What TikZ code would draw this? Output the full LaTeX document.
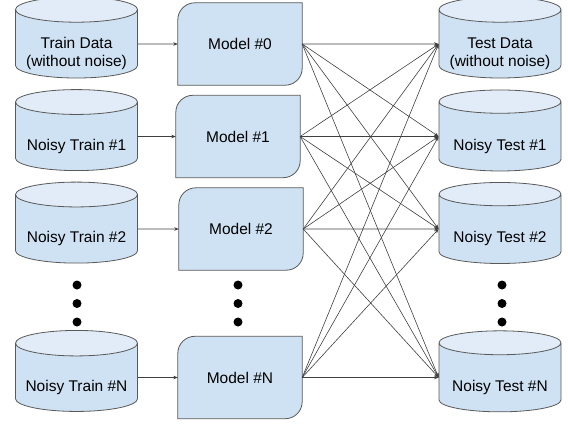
\documentclass[tikz,border=0pt]{standalone}
\usepackage{fontspec}
\setmainfont{Liberation Sans}
\usetikzlibrary{shapes.geometric,arrows.meta,backgrounds}
\definecolor{storefill}{HTML}{CFE2F3}
\definecolor{capfill}{HTML}{E1ECF8}
\definecolor{edgegray}{HTML}{595959}
\definecolor{wiregray}{HTML}{404040}
% Store labels sit in the body of the cylinder, below the top cap.
\newcommand{\storelabel}[1]{\raisebox{-10pt}[\height][\depth]{\begin{tabular}{@{}c@{}}#1\end{tabular}}}

\begin{document}
\begin{tikzpicture}[
  x=1pt,
  y=-1pt,
  line join=round,
  datastore/.style={cylinder,shape border rotate=90,aspect=0.25,draw=edgegray,line width=0.8pt,
    cylinder uses custom fill,cylinder body fill=storefill,cylinder end fill=capfill,
    minimum width=122pt,minimum height=81pt,inner sep=0pt,
    font=\fontsize{15.5}{18}\selectfont},
  model/.style={rectangle,minimum width=124pt,minimum height=82pt,inner sep=0pt,
    font=\fontsize{15.5}{18}\selectfont},
  modeledge/.style={draw=edgegray,fill=storefill,line width=0.8pt},
  link/.style={draw=wiregray,line width=0.6pt,-{Stealth[length=4.5pt,width=3.5pt]}},
  ellipsisdot/.style={circle,fill=black,inner sep=0pt,minimum size=9pt}
]
  \useasboundingbox (0,0) rectangle (568,424);

  % Training sets on the left.
  \node[datastore] (train0) at (76.5,44) {\storelabel{Train Data\\(without noise)}};
  \node[datastore] (train1) at (76.5,136.5) {\storelabel{Noisy Train \#1}};
  \node[datastore] (train2) at (76.5,229) {\storelabel{Noisy Train \#2}};
  \node[datastore] (trainN) at (76.5,377.5) {\storelabel{Noisy Train \#N}};

  % One model per training set.
  \node[model] (model0) at (240,44) {Model \#0};
  \node[model] (model1) at (238,136.5) {Model \#1};
  \node[model] (model2) at (241,229) {Model \#2};
  \node[model] (modelN) at (240,377.5) {Model \#N};

  % Test sets on the right.
  \node[datastore] (test0) at (500,44) {\storelabel{Test Data\\(without noise)}};
  \node[datastore] (test1) at (500,136.5) {\storelabel{Noisy Test \#1}};
  \node[datastore] (test2) at (500,229) {\storelabel{Noisy Test \#2}};
  \node[datastore] (testN) at (500,377.5) {\storelabel{Noisy Test \#N}};

  % Model boxes: only top-left and bottom-right corners are rounded.
  \begin{pgfonlayer}{background}
    \foreach \m in {model0,model1,model2,modelN} {
      \path[modeledge] (\m.south west) -- ([yshift=-17pt]\m.north west)
        arc[start angle=180,end angle=90,radius=17pt] -- (\m.north east)
        -- ([yshift=17pt]\m.south east)
        arc[start angle=0,end angle=-90,radius=17pt] -- cycle;
    }
  \end{pgfonlayer}

  % Each training set feeds its own model.
  \foreach \i in {0,1,2,N} {
    \draw[link] (train\i.east) -- (model\i.west);
  }

  % Every model is evaluated on every test set.
  \foreach \i in {0,1,2,N} {
    \foreach \j in {0,1,2,N} {
      \draw[link] (model\i.east) -- (test\j.west);
    }
  }

  % Vertical ellipses between row 2 and row N.
  \foreach \x/\c in {77/l,238/m,502/r} {
    \foreach \y/\k in {285/a,303.5/b,322/c} {
      \node[ellipsisdot] (dot\c\k) at (\x,\y) {};
    }
  }
\end{tikzpicture}
\end{document}
